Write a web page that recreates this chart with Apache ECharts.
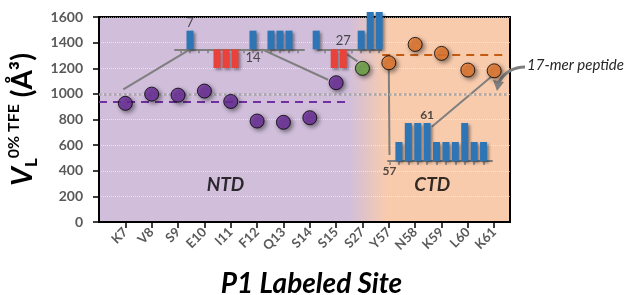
<!DOCTYPE html>
<html>
<head>
<meta charset="utf-8">
<script src="https://cdn.jsdelivr.net/npm/echarts@6/dist/echarts.min.js"></script>
<style>
  html, body { margin: 0; padding: 0; background: #fff; }
  #main { width: 626px; height: 295px; }
</style>
</head>
<body>
<div id="main"></div>
<script>
// sites on the x axis and their volumes
const categories = ['K7', 'V8', 'S9', 'E10', 'I11', 'F12', 'Q13', 'S14', 'S15', 'S27', 'Y57', 'N58', 'K59', 'L60', 'K61'];
const volumes = [926, 998, 990, 1022, 941, 788, 778, 814, 1087, 1199, 1243, 1386, 1316, 1186, 1180];
const ntdMean = 938;
const ctdMean = 1305;
const peptideVolume = 1000;

// small residue bar plots (insets)
const ntdResA = [7, 10, 11, 12, 14, 16, 17, 18];
const ntdValA = [1, -1, -1, -1, 1, 1, 1, 1];
const ntdResB = [24, 26, 27, 29, 30, 31];
const ntdValB = [1, -1, -1, 1, 2, 2];
const ctdRes = [58, 59, 60, 61, 62, 63, 64, 65, 66, 67];
const ctdVal = [1, 2, 2, 2, 1, 1, 1, 2, 1, 1];

const FONT = 'Lato, "Open Sans", sans-serif';
const purple = '#7030a0', green = '#70ad47', orange = '#ed7d31';
const blue = '#2e75b6', red = '#e8423b', gray = '#7f7f7f';

const chart = echarts.init(document.getElementById('main'));

const idx = categories.map((c, i) => i);
const pts = (from, to) => idx.slice(from, to).map(i => [i, volumes[i]]);
const pairs = (r, v) => r.map((x, i) => [x, v[i]]);

const markerStyle = c => ({
  color: c, borderColor: '#000', borderWidth: 1,
  shadowBlur: 4, shadowColor: 'rgba(0,0,0,0.55)', shadowOffsetX: 2, shadowOffsetY: 2
});

function insetX(g, min, max, ticks) {
  return {
    type: 'value', gridIndex: g, min: min, max: max,
    axisLine: { onZero: true, lineStyle: { color: gray, width: 2 } },
    axisTick: { customValues: ticks, length: 4, lineStyle: { color: gray, width: 1.5 } },
    axisLabel: { show: false }, splitLine: { show: false }
  };
}
function insetY(g, min, max) {
  return { type: 'value', gridIndex: g, min: min, max: max, show: false, splitLine: { show: false } };
}
function insetBars(g, data) {
  return {
    type: 'bar', xAxisIndex: g, yAxisIndex: g, data: data, barWidth: 7, z: 3,
    itemStyle: {
      color: p => (p.value[1] > 0 ? blue : red),
      shadowBlur: 3, shadowColor: 'rgba(0,0,0,0.4)', shadowOffsetX: 2, shadowOffsetY: 2
    }
  };
}
function textMarks(g, data, size, weight) {
  return {
    type: 'scatter', xAxisIndex: g, yAxisIndex: g, symbolSize: 1, silent: true, z: 4,
    itemStyle: { color: 'transparent' },
    data: data.map(d => ({ value: [d[0], d[1]], label: { position: d[3], distance: d[4] }, name: d[2] })),
    label: { show: true, formatter: '{b}', fontFamily: FONT, fontSize: size, fontWeight: weight, color: '#262626' }
  };
}

const seq = (a, b) => { const r = []; for (let i = a; i <= b; i++) r.push(i); return r; };
const plain = () => ({ outerBoundsMode: 'none', containLabel: false });

chart.setOption({
  animation: false,
  grid: [
    Object.assign({
      left: 99, top: 17, right: 116, bottom: 73, show: true,
      borderColor: '#000', borderWidth: 2,
      backgroundColor: new echarts.graphic.LinearGradient(0, 0, 1, 0, [
        { offset: 0, color: '#d0bedb' },
        { offset: 0.605, color: '#d0bedb' },
        { offset: 0.70, color: '#f8cbad' },
        { offset: 1, color: '#f8cbad' }
      ])
    }, plain()),
    Object.assign({ left: 175, top: 12, width: 129, height: 56 }, plain()),
    Object.assign({ left: 318, top: 12, width: 63, height: 56 }, plain()),
    Object.assign({ left: 388, top: 123, width: 104, height: 38 }, plain())
  ],
  xAxis: [
    {
      type: 'value', gridIndex: 0, min: -1, max: 14.6,
      name: 'P1 Labeled Site', nameLocation: 'middle', nameGap: 48,
      nameTextStyle: {
        fontFamily: FONT, fontSize: 28, fontWeight: 'bold', fontStyle: 'italic', color: '#000',
        padding: [0, 0, 0, 14]
      },
      axisLine: { onZero: false, lineStyle: { color: '#000', width: 2 } },
      axisTick: { customValues: idx, length: 6, lineStyle: { color: '#000', width: 1.5 } },
      axisLabel: {
        customValues: idx, rotate: 45, margin: 8,
        formatter: v => categories[Math.round(v)] || '',
        fontFamily: FONT, fontSize: 13, fontWeight: 'bold', color: '#595959'
      },
      splitLine: { show: false }
    },
    insetX(1, 5.33, 19.67, seq(6, 19)),
    insetX(2, 24.2, 31.2, seq(25, 31)),
    insetX(3, 56.84, 67.9, seq(57, 67))
  ],
  yAxis: [
    {
      type: 'value', gridIndex: 0, min: 0, max: 1600, interval: 200,
      name: '{v|V}{sub|L}{sup|0% TFE}{p| (Å³)}',
      nameLocation: 'middle', nameRotate: 90, nameGap: 58,
      nameTextStyle: {
        rich: {
          v: { fontFamily: FONT, fontSize: 29, fontWeight: 'bold', fontStyle: 'italic', color: '#000', lineHeight: 34 },
          sub: { fontFamily: FONT, fontSize: 17, fontWeight: 'bold', color: '#000', verticalAlign: 'bottom' },
          sup: { fontFamily: FONT, fontSize: 16, fontWeight: 'bold', color: '#000', verticalAlign: 'top' },
          p: { fontFamily: FONT, fontSize: 28, fontWeight: 'bold', color: '#000' }
        }
      },
      axisLine: { show: true, onZero: false, lineStyle: { color: '#000', width: 2 } },
      axisTick: { show: true, length: 6, lineStyle: { color: '#000', width: 1.5 } },
      axisLabel: {
        margin: 16, formatter: v => String(v),
        fontFamily: FONT, fontSize: 14, fontWeight: 'bold', color: '#595959'
      },
      splitLine: { lineStyle: { color: 'rgba(255,255,255,0.55)', type: 'dotted', width: 1 } }
    },
    insetY(1, -1, 2),
    insetY(2, -1, 2),
    insetY(3, 0, 2)
  ],
  series: [
    {
      type: 'scatter', data: pts(0, 9), symbolSize: 14, z: 5, itemStyle: markerStyle(purple),
      markLine: {
        silent: true, symbol: 'none', label: { show: false },
        data: [
          [{ coord: [-1, peptideVolume], lineStyle: { color: '#a6a6a6', type: 'dotted', width: 2.5 } }, { coord: [14.5, peptideVolume] }],
          [{ coord: [-1, ntdMean], lineStyle: { color: purple, type: [8, 6], width: 2 } }, { coord: [8.45, ntdMean] }],
          [{ coord: [9.75, ctdMean], lineStyle: { color: '#c55a11', type: [8, 6], width: 2 } }, { coord: [14.5, ctdMean] }]
        ]
      }
    },
    { type: 'scatter', data: pts(9, 10), symbolSize: 14, z: 5, itemStyle: markerStyle(green) },
    { type: 'scatter', data: pts(10, 15), symbolSize: 14, z: 5, itemStyle: markerStyle(orange) },
    {
      type: 'scatter', symbolSize: 1, silent: true, itemStyle: { color: 'transparent' },
      data: [{ name: 'NTD', value: [3.8, 290] }, { name: 'CTD', value: [11.65, 290] }],
      label: {
        show: true, position: 'inside', formatter: '{b}',
        fontFamily: FONT, fontSize: 19, fontWeight: 'bold', fontStyle: 'italic', color: '#000'
      }
    },
    insetBars(1, pairs(ntdResA, ntdValA)),
    insetBars(2, pairs(ntdResB, ntdValB)),
    insetBars(3, pairs(ctdRes, ctdVal)),
    textMarks(1, [[7, 1, '7', 'top', 1], [14, 0, '14', 'bottom', 1]], 13, 'normal'),
    textMarks(2, [[27, 0, '27', 'top', 2]], 13, 'normal'),
    textMarks(3, [[61, 2, '61', 'top', 1], [57, 0, '57', 'bottom', 4]], 12, 'bold')
  ]
});

// connector lines from the points to the residue insets
const px = (g, x, y) => chart.convertToPixel({ gridIndex: g }, [x, y]);
const shift = (p, dx, dy) => [p[0] + dx, p[1] + dy];
const links = [
  [px(1, 7, 0), shift(px(0, 0, volumes[0]), -2, -14)],
  [px(1, 15, 0), shift(px(0, 8, volumes[8]), -8, -3)],
  [shift(px(2, 27, 0), 4, 5), shift(px(0, 9, volumes[9]), -5, -7)],
  [shift(px(0, 10, volumes[10]), 0, 6), shift(px(3, 57, 0), 0, -6)],
  [shift(px(0, 14, volumes[14]), -3, 6), px(3, 61.5, 1.8)]
];

chart.setOption({
  graphic: links.map(l => ({
    type: 'line', z: 1, silent: true,
    shape: { x1: l[0][0], y1: l[0][1], x2: l[1][0], y2: l[1][1] },
    style: { stroke: gray, lineWidth: 2 }
  })).concat([
    {
      type: 'text', left: 527, top: 58, silent: true,
      style: { text: '17-mer peptide', font: 'italic 15px ' + FONT, fill: '#262626' }
    },
    {
      type: 'bezierCurve', silent: true,
      shape: { x1: 525, y1: 67, cpx1: 508, cpy1: 67, x2: 499, y2: 82 },
      style: { stroke: gray, lineWidth: 3, fill: null }
    },
    {
      type: 'polygon', silent: true,
      shape: { points: [[493, 80], [504, 82], [497, 91]] },
      style: { fill: gray }
    }
  ])
});
</script>
</body>
</html>
